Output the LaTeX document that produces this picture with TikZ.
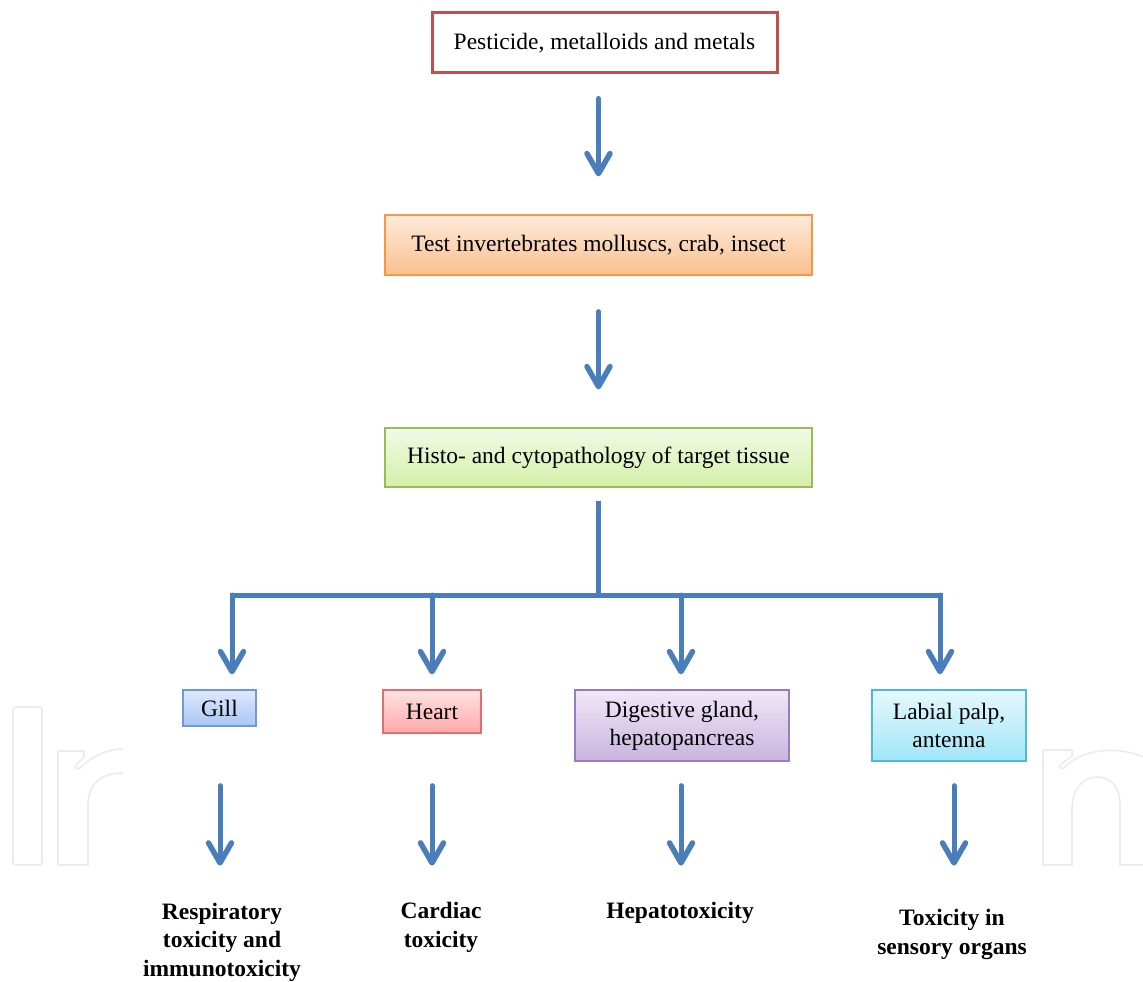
\documentclass[tikz,border=0pt]{standalone}
\usepackage{fontspec}
\setmainfont{Liberation Serif}
\usetikzlibrary{arrows.meta}
\definecolor{arrblue}{RGB}{74,126,187}
\definecolor{topred}{RGB}{192,80,77}
\definecolor{orbd}{RGB}{247,150,70}
\definecolor{ortop}{RGB}{253,234,218}
\definecolor{orbot}{RGB}{250,192,143}
\definecolor{grbd}{RGB}{155,187,89}
\definecolor{grtop}{RGB}{242,249,230}
\definecolor{grbot}{RGB}{212,240,170}
\definecolor{blbd}{RGB}{108,155,213}
\definecolor{bltop}{RGB}{222,233,252}
\definecolor{blbot}{RGB}{168,198,245}
\definecolor{rdbd}{RGB}{224,110,110}
\definecolor{rdtop}{RGB}{255,226,226}
\definecolor{rdbot}{RGB}{255,168,168}
\definecolor{pubd}{RGB}{154,125,191}
\definecolor{putop}{RGB}{240,232,247}
\definecolor{pubot}{RGB}{201,180,224}
\definecolor{cybd}{RGB}{79,185,216}
\definecolor{cytop}{RGB}{230,248,253}
\definecolor{cybot}{RGB}{160,230,248}
\begin{document}
\begin{tikzpicture}[x=1pt,y=-1pt,
  box/.style={draw, line width=1.3pt, inner sep=0pt, font=\fontsize{23.5}{28}\selectfont, align=center},
  arr/.style={draw=arrblue, line width=5pt, line cap=round, -{Straight Barb[length=20pt,width=23pt,line width=5.5pt,line cap=round,line join=round]}},
  trunk/.style={draw=arrblue, line width=5pt},
  res/.style={font=\bfseries\fontsize{23.5}{28.5}\selectfont, align=center},
  wm/.style={draw=black!8, line width=1.6pt, line join=round}]
\useasboundingbox (0,0) rectangle (1143,982);
\begin{scope}
\clip (0,0) rectangle (1143,982);
% watermark
\draw[wm, rounded corners=3pt] (13,707) rectangle (42,865);
\draw[wm] (123,749) .. controls (108,749) and (92,756) .. (80,768) .. controls (77,770) and (74,768) .. (76,765) -- (84,757) -- (84,751) -- (58,751) -- (58,865) -- (88,865) -- (88,805) .. controls (88,785) and (100,773) .. (123,773);
\draw[wm] (1143,757) .. controls (1120,746) and (1082,748) .. (1064,768) .. controls (1061,770) and (1058,767) .. (1061,764) -- (1072,756) -- (1072,750) -- (1043,750) -- (1043,865) -- (1072,865) -- (1072,810) .. controls (1072,790) and (1082,777) .. (1097,777) .. controls (1112,777) and (1120,788) .. (1120,805) -- (1120,865) -- (1143,865);
\end{scope}
% boxes
\node[box, draw=topred, line width=3pt, fill=white, minimum width=345pt, minimum height=60pt] (top) at (604.5,43) {Pesticide, metalloids and metals};
\node[box, draw=orbd, top color=ortop, bottom color=orbot, minimum width=427pt, minimum height=60pt] (org) at (598.5,245) {Test invertebrates molluscs, crab, insect};
\node[box, draw=grbd, top color=grtop, bottom color=grbot, minimum width=427pt, minimum height=59pt] (his) at (598.5,457.5) {Histo- and cytopathology of target tissue};
\node[box, draw=blbd, top color=bltop, bottom color=blbot, minimum width=73pt, minimum height=36pt] (gill) at (219.5,708) {Gill};
\node[box, draw=rdbd, top color=rdtop, bottom color=rdbot, minimum width=98pt, minimum height=43pt] (heart) at (432,711.5) {Heart};
\node[box, draw=pubd, top color=putop, bottom color=pubot, minimum width=214pt, minimum height=71pt] (dig) at (682,725.5) {Digestive gland,\\hepatopancreas};
\node[box, draw=cybd, top color=cytop, bottom color=cybot, minimum width=154pt, minimum height=71pt] (lab) at (949,725.5) {Labial palp,\\antenna};
% results
\node[res] (r1) at (222,942) {Respiratory\\toxicity and\\immunotoxicity};
\node[res] (r2) at (441,927.5) {Cardiac\\toxicity};
\node[res] (r3) at (680,913) {Hepatotoxicity};
\node[res] (r4) at (952,934.5) {Toxicity in\\sensory organs};
% main arrows
\draw[arr] ([xshift=-6pt,yshift=-24pt]top.south) -- ([yshift=38pt]org.north);
\draw[arr] ([yshift=-36pt]org.south) -- ([yshift=38pt]his.north);
% tree
\coordinate (hub) at (598.5,595);
\coordinate (bl) at (232,595);
\coordinate (br) at (940,595);
\draw[trunk] ([yshift=-13pt]his.south) -- (hub);
\draw[trunk, line cap=rect] (bl) -- (br);
\draw[arr] (bl) -- ([xshift=12.5pt,yshift=15pt]gill.north);
\draw[arr] (432,595) -- ([yshift=15pt]heart.north);
\draw[arr] (681,595) -- ([xshift=-1pt,yshift=15pt]dig.north);
\draw[arr] (br) -- ([xshift=-9pt,yshift=15pt]lab.north);
% lower arrows
\draw[arr] ([xshift=0.5pt,yshift=-59pt]gill.south) -- ([xshift=0.5pt,yshift=-139pt]gill.south);
\draw[arr] ([yshift=-52pt]heart.south) -- ([yshift=-132pt]heart.south);
\draw[arr] ([xshift=-1pt,yshift=-24pt]dig.south) -- ([xshift=-1pt,yshift=-104pt]dig.south);
\draw[arr] ([xshift=5pt,yshift=-24pt]lab.south) -- ([xshift=5pt,yshift=-104pt]lab.south);
\end{tikzpicture}
\end{document}
